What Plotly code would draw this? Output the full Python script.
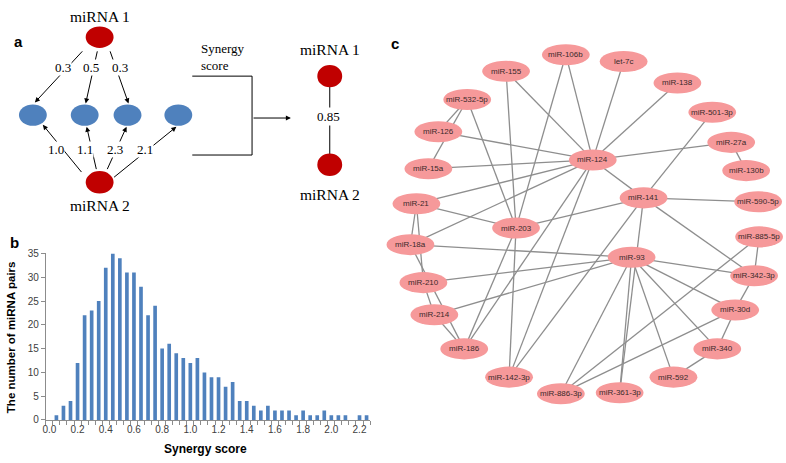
import plotly.graph_objects as go

# ---------------- Panel b: histogram data ----------------
score_bins = [0.0, 0.05, 0.10, 0.15, 0.20, 0.25, 0.30, 0.35, 0.40, 0.45,
              0.50, 0.55, 0.60, 0.65, 0.70, 0.75, 0.80, 0.85, 0.90, 0.95,
              1.00, 1.05, 1.10, 1.15, 1.20, 1.25, 1.30, 1.35, 1.40, 1.45,
              1.50, 1.55, 1.60, 1.65, 1.70, 1.75, 1.80, 1.85, 1.90, 1.95,
              2.00, 2.05, 2.10, 2.15, 2.20, 2.25]
pair_counts = [0, 1, 3, 4, 12, 22, 23, 25, 32, 35,
               34, 31, 31, 28, 22, 24, 15, 16, 14, 13,
               12, 13, 10, 9, 9, 7, 8, 4, 4, 3,
               2, 3, 2, 2, 2, 1, 2, 1, 1, 2,
               1, 1, 1, 0, 1, 1]
x_tick_values = [0.0, 0.2, 0.4, 0.6, 0.8, 1.0, 1.2, 1.4, 1.6, 1.8, 2.0, 2.2]
x_tick_labels = ["0.0", "0.2", "0.4", "0.6", "0.8", "1.0", "1.2", "1.4", "1.6", "1.8", "2.0", "2.2"]
y_tick_values = [0, 5, 10, 15, 20, 25, 30, 35]

# ---------------- Panel a: schematic data ----------------
mirna1_weights = ["0.3", "0.5", "0.3"]
mirna2_weights = ["1.0", "1.1", "2.3", "2.1"]
synergy_value = "0.85"

# ---------------- Panel c: network data ----------------
network_nodes = ["miR-106b", "let-7c", "miR-155", "miR-138", "miR-532-5p", "miR-501-3p",
                 "miR-126", "miR-27a", "miR-124", "miR-15a", "miR-130b", "miR-21",
                 "miR-141", "miR-590-5p", "miR-203", "miR-18a", "miR-885-5p", "miR-93",
                 "miR-210", "miR-342-3p", "miR-214", "miR-30d", "miR-186", "miR-340",
                 "miR-142-3p", "miR-592", "miR-886-3p", "miR-361-3p"]
network_edges = [
    ("miR-106b", "miR-124"), ("miR-106b", "miR-203"), ("let-7c", "miR-124"),
    ("miR-138", "miR-124"), ("miR-155", "miR-124"), ("miR-155", "miR-203"),
    ("miR-532-5p", "miR-126"), ("miR-532-5p", "miR-15a"), ("miR-532-5p", "miR-203"),
    ("miR-126", "miR-124"), ("miR-15a", "miR-124"), ("miR-21", "miR-124"),
    ("miR-21", "miR-203"), ("miR-21", "miR-18a"), ("miR-21", "miR-210"),
    ("miR-18a", "miR-124"), ("miR-18a", "miR-93"), ("miR-18a", "miR-186"),
    ("miR-210", "miR-93"), ("miR-210", "miR-214"), ("miR-214", "miR-93"),
    ("miR-214", "miR-186"), ("miR-203", "miR-186"), ("miR-124", "miR-186"),
    ("miR-203", "miR-142-3p"), ("miR-124", "miR-142-3p"), ("miR-141", "miR-142-3p"),
    ("miR-501-3p", "miR-141"), ("miR-27a", "miR-124"), ("miR-27a", "miR-130b"),
    ("miR-124", "miR-141"), ("miR-141", "miR-590-5p"), ("miR-141", "miR-203"),
    ("miR-141", "miR-342-3p"), ("miR-141", "miR-361-3p"), ("miR-93", "miR-361-3p"),
    ("miR-93", "miR-886-3p"), ("miR-93", "miR-592"), ("miR-93", "miR-340"),
    ("miR-93", "miR-30d"), ("miR-93", "miR-342-3p"), ("miR-885-5p", "miR-886-3p"),
    ("miR-885-5p", "miR-342-3p"), ("miR-342-3p", "miR-30d"), ("miR-30d", "miR-886-3p"),
    ("miR-30d", "miR-340"), ("miR-340", "miR-592"),
]

# ---------------- layout (positions in page pixels) ----------------
W, H = 786, 463
node_pos = {
    "miR-106b": (565, 50), "let-7c": (623, 57), "miR-155": (505, 67), "miR-138": (677, 79),
    "miR-532-5p": (466, 96), "miR-501-3p": (712, 109), "miR-126": (437, 129),
    "miR-27a": (731, 140), "miR-124": (592, 158), "miR-15a": (427, 167),
    "miR-130b": (746, 169), "miR-21": (415, 203), "miR-141": (643, 197),
    "miR-590-5p": (758, 201), "miR-203": (515, 228), "miR-18a": (409, 245),
    "miR-885-5p": (759, 237), "miR-93": (631, 258), "miR-210": (422, 284),
    "miR-342-3p": (754, 277), "miR-214": (433, 317), "miR-30d": (735, 312),
    "miR-186": (463, 352), "miR-340": (717, 352), "miR-142-3p": (508, 381),
    "miR-592": (673, 381), "miR-886-3p": (560, 398), "miR-361-3p": (619, 397),
}
NODE_RX, NODE_RY = 24, 10.8
NODE_FILL = "#F6999A"
EDGE_COLOR = "#8E8E8E"
RED = "#C00000"
BLUE = "#4F81BD"
SERIF = "Liberation Serif"
SANS = "Liberation Sans"

fig = go.Figure()

# histogram (panel b)
fig.add_trace(go.Bar(x=score_bins, y=pair_counts, width=0.026, marker=dict(color=BLUE, line=dict(width=0)),
                     xaxis="x", yaxis="y", showlegend=False, hoverinfo="x+y"))

# network edges (panel c)
ex, ey = [], []
for a, b in network_edges:
    ex += [node_pos[a][0], node_pos[b][0], None]
    ey += [node_pos[a][1], node_pos[b][1], None]
fig.add_trace(go.Scatter(x=ex, y=ey, mode="lines", line=dict(color=EDGE_COLOR, width=1.3),
                         xaxis="x2", yaxis="y2", showlegend=False, hoverinfo="skip"))

shapes = []
annotations = []

def ellipse(cx, cy, rx, ry, color):
    shapes.append(dict(type="circle", xref="x2", yref="y2", x0=cx - rx, x1=cx + rx,
                       y0=cy - ry, y1=cy + ry, fillcolor=color,
                       line=dict(width=0, color=color), layer="above"))

def text(x, y, s, size, family=SANS, color="#000000", bold=False, **kw):
    if bold:
        s = "<b>" + s + "</b>"
    d = dict(x=x, y=y, xref="x2", yref="y2", text=s, showarrow=False,
             font=dict(size=size, family=family, color=color))
    d.update(kw)
    annotations.append(d)

def arrow(x_tail, y_tail, x_head, y_head):
    annotations.append(dict(x=x_head, y=y_head, ax=x_tail, ay=y_tail, xref="x2", yref="y2",
                            axref="x2", ayref="y2", text="", showarrow=True, arrowhead=2,
                            arrowsize=1, arrowwidth=1, arrowcolor="#000000", standoff=0))

# network nodes
for n in network_nodes:
    cx, cy = node_pos[n]
    ellipse(cx, cy, NODE_RX, NODE_RY, NODE_FILL)
    text(cx, cy, n, 8, color="#3a2a2a")

# ---------------- panel a ----------------
top_red = (97, 32)
bot_red = (97, 181)
blue_nodes = [(30, 112), (82, 112), (125, 112), (176, 112)]
arrows_top = [((81, 45), (32, 99)), ((95, 45), (83, 100)), ((107, 45), (126, 100))]
label_top = [(60, 63), (88, 63), (117, 63)]
arrows_bot = [((80, 172), (40, 122)), ((94, 169), (84, 124)), ((104, 169), (124, 124)), ((110, 177), (174, 124))]
label_bot = [(53, 147), (82, 147), (112, 147), (143, 147)]

for (t, h) in arrows_top + arrows_bot:
    arrow(t[0], t[1], h[0], h[1])
for (p, s) in zip(label_top, mirna1_weights):
    text(p[0], p[1], s, 13, family=SERIF, bgcolor="#ffffff", borderpad=0)
for (p, s) in zip(label_bot, mirna2_weights):
    text(p[0], p[1], s, 13, family=SERIF, bgcolor="#ffffff", borderpad=0)

ellipse(top_red[0], top_red[1], 14, 11, RED)
ellipse(bot_red[0], bot_red[1], 14, 11.5, RED)
for (cx, cy) in blue_nodes:
    ellipse(cx, cy, 14, 11, BLUE)

text(97, 11, "miRNA 1", 15.5, family=SERIF)
text(97, 205, "miRNA 2", 15.5, family=SERIF)

# bracket and arrow
shapes.append(dict(type="path", xref="x2", yref="y2", path="M 190 72 L 250 72 L 250 153 L 190 153",
                   line=dict(color="#000000", width=1), layer="above"))
arrow(250, 115, 289, 115)
text(197, 52, "Synergy<br>score", 13, family=SERIF, xanchor="left", align="left")

# result pair
shapes.append(dict(type="line", xref="x2", yref="y2", x0=328, x1=328, y0=80, y1=155,
                   line=dict(color="#000000", width=1), layer="above"))
ellipse(328, 72, 12.5, 11.5, RED)
ellipse(328, 163, 12.5, 11.5, RED)
text(327, 113, synergy_value, 13, family=SERIF, bgcolor="#ffffff", borderpad=1)
text(328, 45, "miRNA 1", 15.5, family=SERIF)
text(328, 193, "miRNA 2", 15.5, family=SERIF)

# panel letters
text(16, 36, "a", 15, bold=True)
text(12, 243, "b", 15, bold=True)
text(393, 38, "c", 15, bold=True)

# histogram titles
text(8, 340, "The number of miRNA pairs", 11.5, bold=True, textangle=-90)
text(203, 455, "Synergy score", 12, bold=True)

# ---------------- axes ----------------
x0_px, x1_px = 43, 368.5
y_top_px, y_bot_px = 254, 425
fig.update_layout(
    width=W, height=H, autosize=False,
    margin=dict(l=0, r=0, t=0, b=0, pad=0),
    paper_bgcolor="#ffffff", plot_bgcolor="rgba(0,0,0,0)",
    showlegend=False,
    xaxis=dict(domain=[x0_px / W, x1_px / W], range=[-0.025, 2.275], anchor="y",
               tickvals=x_tick_values, ticktext=x_tick_labels, ticks="",
               showline=True, linecolor="#8C8C8C", linewidth=1, showgrid=False, zeroline=False,
               tickfont=dict(family=SANS, size=10, color="#404040"),
               minor=dict(ticks="outside", tick0=-0.025, dtick=0.05, ticklen=4,
                          tickcolor="#8C8C8C", showgrid=False)),
    yaxis=dict(domain=[(H - y_bot_px) / H, (H - y_top_px) / H], range=[0, 35], anchor="x",
               tickvals=y_tick_values, ticks="outside", ticklen=4, tickcolor="#8C8C8C",
               showline=True, linecolor="#8C8C8C", linewidth=1, showgrid=False, zeroline=False,
               tickfont=dict(family=SANS, size=10, color="#404040")),
    xaxis2=dict(domain=[0, 1], range=[0, W], anchor="y2", visible=False, fixedrange=True),
    yaxis2=dict(domain=[0, 1], range=[H, 0], anchor="x2", visible=False, fixedrange=True),
    shapes=shapes,
    annotations=annotations,
)

fig.write_html("out.html",
               config={"displayModeBar": False, "staticPlot": True},
               post_script="document.body.style.margin='0';document.body.style.overflow='hidden';")
